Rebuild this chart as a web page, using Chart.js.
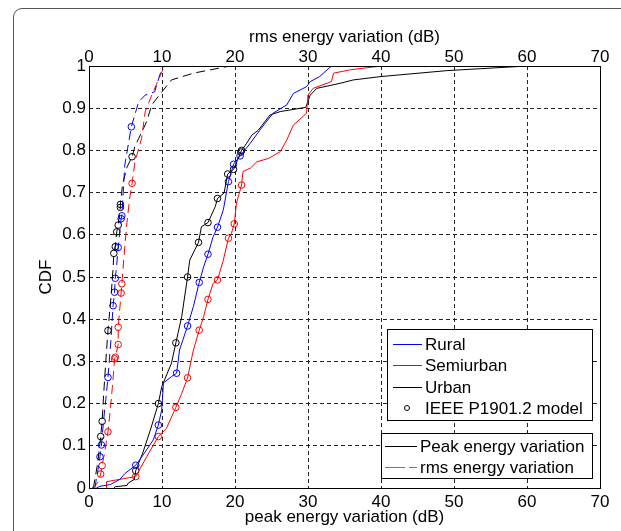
<!DOCTYPE html>
<html>
<head>
<meta charset="utf-8">
<script src="https://cdn.jsdelivr.net/npm/chart.js@4.4.1/dist/chart.umd.min.js"></script>
<style>
html, body { margin: 0; padding: 0; background: #fff; overflow: hidden; }
#wrap { position: relative; width: 621px; height: 531px; }
#frame { position: absolute; left: 13px; top: 8px; width: 700px; height: 600px; border: 1px solid #555; border-radius: 9px; }
canvas { position: absolute; left: 0; top: 0; }
</style>
</head>
<body>
<div id="wrap">
  <div id="frame"></div>
  <canvas id="cdf-chart" width="621" height="531"></canvas>
</div>
<script>
// axis ticks
var xTicks = [0, 10, 20, 30, 40, 50, 60, 70];
var yTicks = [0, 0.1, 0.2, 0.3, 0.4, 0.5, 0.6, 0.7, 0.8, 0.9, 1];

// peak energy variation (bottom axis), [dB, CDF]
var peakRural = [[1.0,0],[1.5,0.004],[2.9,0.008],[4.2,0.02],[4.9,0.034],[6.4,0.054],[7.4,0.078],[8.8,0.114],[9.5,0.149],[9.96,0.185],[10.2,0.249],[11.3,0.264],[12.0,0.272],[12.4,0.327],[13.5,0.384],[14.3,0.43],[15.1,0.487],[15.7,0.524],[16.3,0.554],[17.0,0.595],[17.6,0.618],[18.4,0.659],[19.1,0.726],[19.8,0.767],[20.7,0.787],[22.1,0.817],[23.4,0.848],[25.2,0.888],[27.1,0.908],[28.0,0.935],[29.8,0.951],[30.3,0.963],[31.6,0.975],[33.2,1]];
var peakSemiurban = [[2.4,0],[2.4,0.015],[6.4,0.027],[7.9,0.074],[9.5,0.122],[10.6,0.141],[11.9,0.191],[12.7,0.224],[13.5,0.261],[14.3,0.327],[15.1,0.374],[15.7,0.406],[16.3,0.447],[17.0,0.485],[17.6,0.493],[18.4,0.54],[19.1,0.592],[19.5,0.603],[19.9,0.626],[20.2,0.675],[20.9,0.718],[21.1,0.75],[22.1,0.758],[23.0,0.773],[24.6,0.781],[26.2,0.797],[27.1,0.825],[28.0,0.86],[29.8,0.888],[30.0,0.931],[30.7,0.947],[33.2,0.963],[33.5,0.983],[35.8,0.991],[40,1]];
var peakUrban = [[3.4,0],[3.6,0.003],[5.2,0.006],[5.4,0.012],[6.2,0.02],[6.4,0.041],[7.4,0.085],[8.4,0.137],[9.5,0.2],[9.96,0.24],[11.3,0.296],[11.9,0.344],[12.7,0.406],[13.5,0.5],[13.8,0.54],[15.0,0.582],[15.4,0.619],[16.3,0.629],[17.3,0.667],[17.6,0.686],[18.5,0.699],[19.0,0.744],[19.8,0.755],[20.8,0.796],[20.9,0.8],[21.6,0.817],[22.3,0.836],[23.2,0.848],[24.8,0.884],[26.2,0.892],[29.7,0.902],[30.3,0.931],[31.2,0.947],[34.4,0.959],[36.2,0.967],[40,0.975],[49,0.989],[60,1]];

// rms energy variation (top axis), [dB, CDF]
var rmsRural = [[0.8,0],[1.2,0.04],[1.5,0.074],[1.7,0.102],[2.0,0.16],[2.3,0.21],[2.6,0.262],[3.0,0.35],[3.3,0.432],[3.5,0.464],[3.6,0.497],[3.8,0.53],[4.0,0.57],[4.4,0.638],[4.5,0.645],[4.9,0.765],[5.8,0.856],[6.8,0.915],[7.7,0.931],[9.0,0.939],[9.7,0.979],[10.2,1]];
var rmsSemiurban = [[0.4,0],[0.8,0.005],[1.3,0.015],[1.6,0.033],[1.8,0.053],[2.2,0.09],[2.6,0.133],[3.0,0.2],[3.3,0.26],[3.5,0.306],[3.6,0.31],[4.0,0.34],[4.0,0.381],[4.4,0.462],[4.5,0.484],[4.8,0.55],[5.2,0.63],[5.6,0.69],[5.9,0.722],[6.3,0.773],[7.2,0.828],[7.7,0.892],[8.6,0.931],[9.3,0.959],[10.0,0.987],[10.4,1]];
var rmsUrban = [[0.6,0],[0.8,0.02],[1.2,0.06],[1.6,0.122],[1.8,0.158],[2.0,0.22],[2.3,0.3],[2.6,0.373],[3.0,0.45],[3.3,0.52],[3.4,0.556],[3.6,0.572],[3.8,0.607],[4.0,0.623],[4.3,0.665],[4.3,0.672],[4.6,0.72],[5.2,0.76],[5.9,0.785],[6.3,0.81],[6.8,0.828],[7.9,0.868],[8.6,0.908],[10.0,0.939],[11.3,0.967],[14.3,0.983],[19.3,1]];

// IEEE P1901.2 model points
var modelPeakRural = [[6.4,0.054],[9.5,0.149],[12.0,0.272],[13.5,0.384],[15.1,0.487],[16.3,0.554],[17.6,0.618],[19.1,0.726],[19.8,0.767],[20.7,0.787]];
var modelPeakSemiurban = [[6.4,0.027],[9.5,0.122],[11.9,0.191],[13.5,0.261],[15.1,0.374],[16.3,0.447],[17.6,0.493],[19.1,0.592],[19.9,0.626],[20.9,0.718]];
var modelPeakUrban = [[6.4,0.041],[9.5,0.2],[11.9,0.344],[13.5,0.5],[15.0,0.582],[16.3,0.629],[17.6,0.686],[19.0,0.744],[19.8,0.755],[20.8,0.796],[20.9,0.8]];
var modelRmsRural = [[1.5,0.074],[1.7,0.102],[2.6,0.262],[3.3,0.432],[3.5,0.464],[3.6,0.497],[4.0,0.57],[4.4,0.638],[4.5,0.645],[5.8,0.856]];
var modelRmsSemiurban = [[1.6,0.033],[1.8,0.053],[2.6,0.133],[3.5,0.306],[3.6,0.31],[4.0,0.34],[4.0,0.381],[4.4,0.462],[4.5,0.484],[5.9,0.722]];
var modelRmsUrban = [[1.6,0.122],[1.8,0.158],[2.6,0.373],[3.4,0.556],[3.6,0.572],[3.8,0.607],[4.0,0.623],[4.3,0.665],[4.3,0.672],[5.9,0.785]];

var BLUE = '#0000ff', RED = '#ff0000', BLACK = '#000000';
var FONT = '"Liberation Sans", Arial, Helvetica, sans-serif';

function pts(arr) {
    return arr.map(function (p) { return { x: p[0], y: p[1] }; });
}
function curve(arr, color, axis, dashed) {
    return {
        data: pts(arr), xAxisID: axis, showLine: true,
        borderColor: color, borderWidth: 1, borderDash: dashed ? [9, 5] : [],
        pointRadius: 0, fill: false, tension: 0
    };
}
function markers(arr, color, axis) {
    return {
        data: pts(arr), xAxisID: axis, showLine: false,
        borderColor: color, pointBorderColor: color, pointBackgroundColor: 'rgba(0,0,0,0)',
        pointRadius: 3.3, pointBorderWidth: 1, pointStyle: 'circle'
    };
}

// frame around the plot + the two legend boxes
var overlay = {
    id: 'overlay',
    afterDraw: function (chart) {
        var ctx = chart.ctx, a = chart.chartArea;
        ctx.save();
        ctx.strokeStyle = '#000';
        ctx.lineWidth = 1;
        ctx.strokeRect(Math.round(a.left) + 0.5, Math.round(a.top) + 0.5,
            Math.round(a.right - a.left), Math.round(a.bottom - a.top));

        ctx.font = '17px ' + FONT;
        ctx.textBaseline = 'middle';
        ctx.textAlign = 'left';

        // box 1
        ctx.fillStyle = '#fff';
        ctx.fillRect(387, 329, 205, 91);
        ctx.strokeRect(387.5, 329.5, 205, 91);
        var rows = [[BLUE, 'Rural', 344], [RED, 'Semiurban', 365], [BLACK, 'Urban', 387]];
        rows.forEach(function (r) {
            ctx.strokeStyle = r[0];
            ctx.beginPath(); ctx.moveTo(393, r[2] + 0.5); ctx.lineTo(422, r[2] + 0.5); ctx.stroke();
            ctx.fillStyle = '#000';
            ctx.fillText(r[1], 425, r[2] + 1);
        });
        ctx.strokeStyle = '#000';
        ctx.beginPath(); ctx.arc(407, 408, 2.5, 0, Math.PI * 2); ctx.stroke();
        ctx.fillText('IEEE P1901.2 model', 425, 409);

        // box 2
        ctx.fillStyle = '#fff';
        ctx.fillRect(381, 433, 211, 45);
        ctx.strokeRect(381.5, 433.5, 211, 45);
        ctx.beginPath(); ctx.moveTo(385, 446.5); ctx.lineTo(417, 446.5); ctx.stroke();
        ctx.strokeStyle = '#777';
        ctx.setLineDash([20, 4]);
        ctx.beginPath(); ctx.moveTo(385, 467.5); ctx.lineTo(417, 467.5); ctx.stroke();
        ctx.setLineDash([]);
        ctx.fillStyle = '#000';
        ctx.fillText('Peak energy variation', 420, 447);
        ctx.fillText('rms energy variation', 420, 468);
        ctx.restore();
    }
};

Chart.defaults.font.family = FONT;
Chart.defaults.font.size = 17;
Chart.defaults.color = '#000';

var ctx = document.getElementById('cdf-chart').getContext('2d');
var cdfChart = new Chart(ctx, {
    type: 'scatter',
    data: {
        datasets: [
            curve(peakRural, BLUE, 'x', false),
            curve(peakSemiurban, RED, 'x', false),
            curve(peakUrban, BLACK, 'x', false),
            curve(rmsRural, BLUE, 'x2', true),
            curve(rmsSemiurban, RED, 'x2', true),
            curve(rmsUrban, BLACK, 'x2', true),
            markers(modelPeakRural, BLUE, 'x'),
            markers(modelPeakSemiurban, RED, 'x'),
            markers(modelPeakUrban, BLACK, 'x'),
            markers(modelRmsRural, BLUE, 'x2'),
            markers(modelRmsSemiurban, RED, 'x2'),
            markers(modelRmsUrban, BLACK, 'x2')
        ]
    },
    options: {
        responsive: false,
        animation: false,
        events: [],
        layout: { padding: { left: 0, right: 21, top: 0, bottom: 0 } },
        plugins: { legend: { display: false }, tooltip: { enabled: false } },
        scales: {
            x: {
                type: 'linear', position: 'bottom', min: 0, max: 70,
                afterFit: function (s) { s.height = 43; },
                afterBuildTicks: function (s) { s.ticks = xTicks.map(function (v) { return { value: v }; }); },
                ticks: { padding: 4, autoSkip: false, maxRotation: 0 },
                grid: { color: '#222', lineWidth: 1, drawTicks: false },
                border: { display: false, dash: [4, 3] },
                title: { display: true, text: 'peak energy variation (dB)', padding: { top: 0, bottom: 3 } }
            },
            x2: {
                type: 'linear', position: 'top', min: 0, max: 70,
                afterFit: function (s) { s.height = 66; },
                afterBuildTicks: function (s) { s.ticks = xTicks.map(function (v) { return { value: v }; }); },
                ticks: { padding: -2, autoSkip: false, maxRotation: 0 },
                grid: { display: false, drawTicks: false },
                border: { display: false },
                title: { display: true, text: 'rms energy variation (dB)', padding: { top: 27, bottom: 0 } }
            },
            y: {
                type: 'linear', min: 0, max: 1,
                afterFit: function (s) { s.width = 89; },
                afterBuildTicks: function (s) { s.ticks = yTicks.map(function (v) { return { value: v }; }); },
                ticks: {
                    padding: 3, autoSkip: false,
                    callback: function (v) { return (v === 0 || v === 1) ? String(v) : v.toFixed(1); }
                },
                grid: { color: '#222', lineWidth: 1, drawTicks: false },
                border: { display: false, dash: [4, 3] },
                title: { display: true, text: 'CDF', padding: { top: 36, bottom: 0 } }
            }
        }
    },
    plugins: [overlay]
});
</script>
</body>
</html>
